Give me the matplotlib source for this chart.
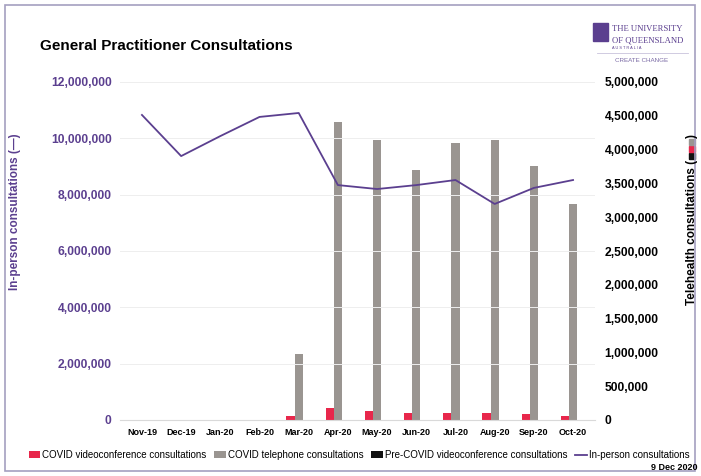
import numpy as np
import matplotlib
matplotlib.use('Agg')
import matplotlib.pyplot as plt
from matplotlib.ticker import FuncFormatter
from matplotlib.patches import Rectangle

# monthly figures
months = ['Nov-19', 'Dec-19', 'Jan-20', 'Feb-20', 'Mar-20', 'Apr-20',
          'May-20', 'Jun-20', 'Jul-20', 'Aug-20', 'Sep-20', 'Oct-20']
in_person = [10830000, 9370000, 10080000, 10760000, 10900000, 8340000,
             8200000, 8340000, 8520000, 7670000, 8240000, 8520000]
covid_video = [0, 0, 0, 0, 60000, 180000, 130000, 100000, 100000, 100000, 90000, 60000]
covid_phone = [0, 0, 0, 0, 976000, 4410000, 4140000, 3700000, 4100000, 4140000, 3760000, 3200000]
pre_video = [6000, 6000, 6000, 6000, 5000, 4000, 4000, 4000, 4000, 4000, 4000, 4000]

PURPLE = '#5b3f8f'
RED = '#e8274b'
GREY = '#9a9591'
BLACK = '#111111'
W, H = 701, 476

plt.rcParams['font.family'] = ['Liberation Sans', 'DejaVu Sans']

fig = plt.figure(figsize=(W / 100, H / 100), dpi=100)
ax = fig.add_axes([120 / W, 1 - 420 / H, 475 / W, 338 / H])
ax2 = ax.twinx()

x = np.arange(len(months))
w = 0.21
ax2.bar(x - w, covid_video, w, color=RED, label='COVID videoconference consultations')
ax2.bar(x, covid_phone, w, color=GREY, label='COVID telephone consultations')
ax2.bar(x + w, pre_video, w, color=BLACK, label='Pre-COVID videoconference consultations')
ax2.set_ylim(0, 5000000)
ax2.set_yticks(np.arange(0, 5000001, 500000))

ax.plot(x, in_person, color=PURPLE, lw=1.3, label='In-person consultations')
ax.set_ylim(0, 12000000)
ax.set_yticks(np.arange(0, 12000001, 2000000))
ax.set_xlim(-0.56, 11.56)
ax.set_xticks(x)
ax.set_xticklabels(months, fontsize=6.5, fontweight='bold')
ax.set_zorder(ax2.get_zorder() + 1)
ax.patch.set_visible(False)
ax.grid(axis='y', color='#eeeeee', lw=0.7)
ax.set_axisbelow(True)

fmt = FuncFormatter(lambda v, p: '{:,.0f}'.format(v))
ax.yaxis.set_major_formatter(fmt)
ax2.yaxis.set_major_formatter(fmt)
for t in ax.get_yticklabels():
    t.set_color(PURPLE)
    t.set_fontweight('bold')
    t.set_fontsize(8.7)
for t in ax2.get_yticklabels():
    t.set_fontweight('bold')
    t.set_fontsize(8.7)
ax.tick_params(axis='y', length=0, pad=6)
ax2.tick_params(axis='y', length=0, pad=7)
ax.tick_params(axis='x', length=0, pad=6)

for a in (ax, ax2):
    for s in a.spines.values():
        s.set_visible(False)
ax.spines['bottom'].set_visible(True)
ax.spines['bottom'].set_color('#d9d9d9')

ax.set_ylabel('In-person consultations (—)', color=PURPLE, fontsize=8.5,
              fontweight='bold')
ax.yaxis.set_label_coords((21 - 120) / 475, 0.615)

# right axis label: text, three coloured squares, closing bracket
fig.canvas.draw()
r = fig.canvas.get_renderer()
lx = 692
ypix = 305
t = fig.text(lx / W, 1 - ypix / H, 'Telehealth consultations (', fontsize=8.5,
             fontweight='bold', rotation=90, ha='left', va='center',
             rotation_mode='anchor')
ypix -= t.get_window_extent(r).height
for c in [BLACK, RED, GREY]:
    ypix -= 7
    fig.add_artist(Rectangle(((lx - 3) / W, 1 - (ypix + 6) / H), 6 / W, 6 / H,
                             color=c, transform=fig.transFigure))
ypix -= 1
fig.text(lx / W, 1 - ypix / H, ')', fontsize=8.5, fontweight='bold',
         rotation=90, ha='left', va='center', rotation_mode='anchor')

fig.text(40 / W, 1 - 46 / H, 'General Practitioner Consultations', fontsize=11,
         fontweight='bold', va='center')

# logo block
fig.add_artist(Rectangle((593 / W, 1 - 41 / H), 15 / W, 18 / H, color=PURPLE,
                         transform=fig.transFigure))
fig.text(612 / W, 1 - 29 / H, 'THE UNIVERSITY', color=PURPLE, fontsize=6.2,
         family='Liberation Serif', va='center')
fig.text(612 / W, 1 - 40 / H, 'OF QUEENSLAND', color=PURPLE, fontsize=6.2,
         family='Liberation Serif', va='center')
fig.text(612 / W, 1 - 48 / H, 'A U S T R A L I A', color=PURPLE, fontsize=2.8,
         va='center')
fig.add_artist(plt.Line2D([597 / W, 688 / W], [1 - 53 / H, 1 - 53 / H],
                          color='#c9c3dc', lw=0.6))
fig.text(642 / W, 1 - 61 / H, 'CREATE CHANGE', color='#7a6aa5', fontsize=4.5,
         va='center', ha='center')

h1, l1 = ax2.get_legend_handles_labels()
h2, l2 = ax.get_legend_handles_labels()
fig.legend(h1 + h2, l1 + l2, loc='center', bbox_to_anchor=(359 / W, 1 - 455 / H),
           ncol=4, frameon=False, fontsize=7, handlelength=1.2,
           handletextpad=0.2, columnspacing=0.8)
fig.text(0.995, 1 - 468 / H, '9 Dec 2020', fontsize=6.5, fontweight='bold',
         ha='right', va='center')

# outer frame
fig.add_artist(Rectangle((5 / W, 5 / H), 690 / W, 466 / H, fill=False,
                         edgecolor='#a49fc0', lw=1.2, transform=fig.transFigure))

fig.savefig('out.png', dpi=100)
